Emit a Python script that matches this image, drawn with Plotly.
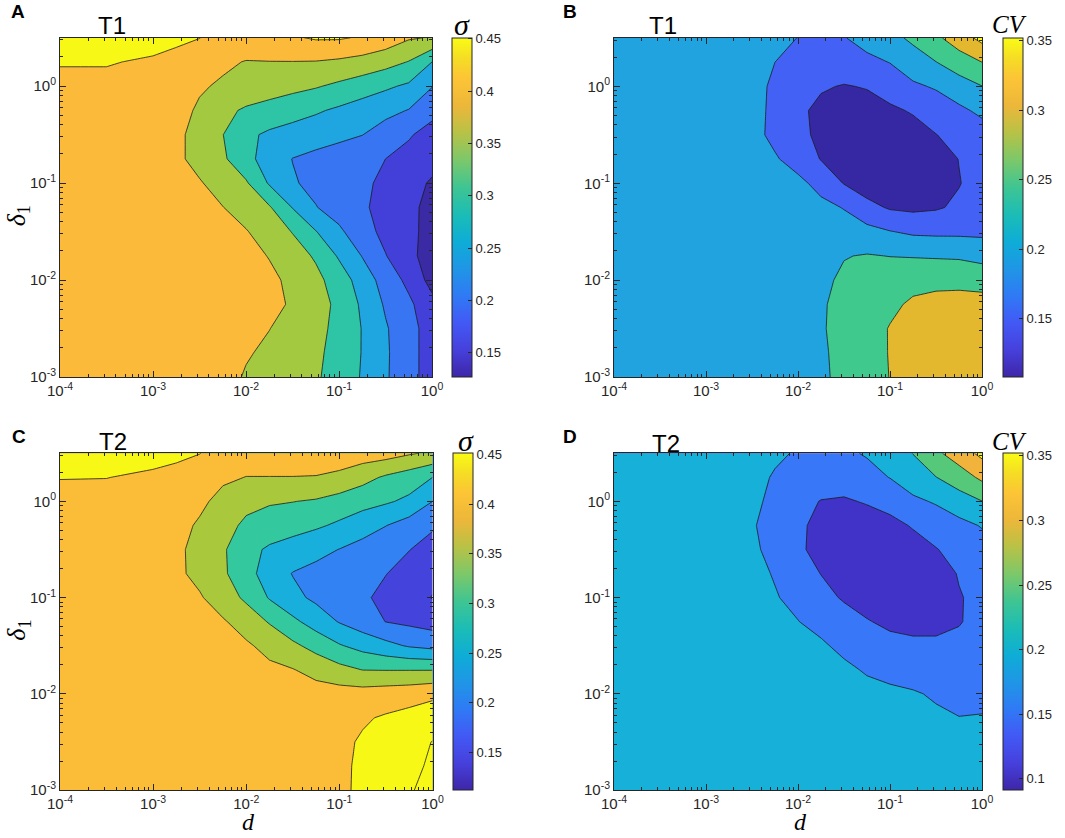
import plotly.graph_objects as go

# ---------------- data ----------------
# grid: exponents of d (x) and delta_1 (y)
d_exp = [-4, -3.5, -3, -2.75, -2.5, -2.25, -2, -1.75, -1.5, -1.25, -1, -0.75, -0.5, -0.25, 0]
delta_exp = [-3, -2.75, -2.5, -2.25, -2, -1.75, -1.5, -1.25, -1, -0.75, -0.5, -0.25, 0, 0.25, 0.5]

# panel A : sigma, T1   (rows = delta_exp, cols = d_exp)
sigma_T1 = [
    [0.42, 0.42, 0.42, 0.42, 0.42, 0.42, 0.395, 0.383, 0.369, 0.356, 0.33, 0.296, 0.256, 0.217, 0.178],
    [0.42, 0.42, 0.42, 0.42, 0.42, 0.42, 0.405, 0.39, 0.375, 0.359, 0.334, 0.298, 0.257, 0.217, 0.178],
    [0.42, 0.42, 0.42, 0.42, 0.42, 0.42, 0.412, 0.401, 0.382, 0.363, 0.338, 0.298, 0.255, 0.217, 0.178],
    [0.42, 0.42, 0.42, 0.42, 0.42, 0.42, 0.42, 0.412, 0.395, 0.37, 0.339, 0.292, 0.244, 0.21, 0.165],
    [0.42, 0.42, 0.42, 0.42, 0.42, 0.42, 0.42, 0.41, 0.39, 0.363, 0.327, 0.277, 0.23, 0.187, 0.133],
    [0.42, 0.42, 0.42, 0.42, 0.42, 0.42, 0.415, 0.398, 0.372, 0.344, 0.294, 0.248, 0.202, 0.164, 0.126],
    [0.42, 0.42, 0.42, 0.42, 0.42, 0.42, 0.403, 0.376, 0.348, 0.302, 0.259, 0.219, 0.187, 0.161, 0.135],
    [0.42, 0.42, 0.42, 0.42, 0.42, 0.401, 0.378, 0.355, 0.298, 0.252, 0.228, 0.206, 0.186, 0.158, 0.14],
    [0.42, 0.42, 0.42, 0.42, 0.404, 0.38, 0.356, 0.295, 0.255, 0.237, 0.223, 0.209, 0.19, 0.166, 0.145],
    [0.42, 0.42, 0.42, 0.41, 0.384, 0.358, 0.315, 0.278, 0.249, 0.237, 0.226, 0.214, 0.2, 0.184, 0.165],
    [0.42, 0.42, 0.42, 0.41, 0.384, 0.351, 0.31, 0.292, 0.282, 0.272, 0.262, 0.251, 0.229, 0.205, 0.181],
    [0.42, 0.42, 0.42, 0.415, 0.394, 0.363, 0.343, 0.331, 0.318, 0.306, 0.292, 0.277, 0.263, 0.248, 0.215],
    [0.43, 0.43, 0.43, 0.42, 0.405, 0.394, 0.384, 0.374, 0.364, 0.354, 0.34, 0.324, 0.308, 0.292, 0.252],
    [0.455, 0.455, 0.44, 0.435, 0.42, 0.408, 0.398, 0.399, 0.399, 0.398, 0.392, 0.383, 0.368, 0.348, 0.3],
    [0.46, 0.47, 0.48, 0.46, 0.451, 0.43, 0.43, 0.435, 0.445, 0.455, 0.455, 0.445, 0.43, 0.405, 0.397],
]

# panel B : CV, T1
cv_T1 = [
    [0.22, 0.22, 0.22, 0.22, 0.22, 0.22, 0.225, 0.24, 0.265, 0.282, 0.301, 0.315, 0.32, 0.322, 0.322],
    [0.22, 0.22, 0.22, 0.22, 0.22, 0.22, 0.225, 0.242, 0.266, 0.283, 0.302, 0.316, 0.321, 0.323, 0.323],
    [0.22, 0.22, 0.22, 0.22, 0.22, 0.22, 0.225, 0.245, 0.267, 0.284, 0.302, 0.316, 0.321, 0.323, 0.322],
    [0.22, 0.22, 0.22, 0.22, 0.22, 0.22, 0.225, 0.244, 0.266, 0.28, 0.292, 0.306, 0.312, 0.314, 0.312],
    [0.22, 0.22, 0.22, 0.22, 0.22, 0.22, 0.225, 0.24, 0.258, 0.27, 0.28, 0.288, 0.29, 0.29, 0.288],
    [0.22, 0.22, 0.22, 0.22, 0.22, 0.22, 0.22, 0.235, 0.248, 0.253, 0.249, 0.247, 0.245, 0.243, 0.232],
    [0.22, 0.22, 0.22, 0.22, 0.22, 0.22, 0.22, 0.22, 0.22, 0.215, 0.202, 0.192, 0.19, 0.19, 0.19],
    [0.22, 0.22, 0.22, 0.22, 0.22, 0.22, 0.22, 0.212, 0.198, 0.165, 0.145, 0.14, 0.145, 0.158, 0.17],
    [0.22, 0.22, 0.22, 0.22, 0.22, 0.22, 0.212, 0.185, 0.148, 0.125, 0.115, 0.118, 0.128, 0.148, 0.168],
    [0.22, 0.22, 0.22, 0.22, 0.22, 0.205, 0.18, 0.148, 0.125, 0.112, 0.108, 0.112, 0.128, 0.151, 0.168],
    [0.22, 0.22, 0.22, 0.22, 0.215, 0.188, 0.162, 0.14, 0.122, 0.112, 0.115, 0.128, 0.149, 0.165, 0.178],
    [0.22, 0.22, 0.22, 0.22, 0.215, 0.19, 0.16, 0.138, 0.128, 0.13, 0.14, 0.155, 0.172, 0.19, 0.21],
    [0.22, 0.22, 0.22, 0.22, 0.215, 0.192, 0.172, 0.155, 0.147, 0.153, 0.175, 0.192, 0.205, 0.228, 0.249],
    [0.22, 0.22, 0.22, 0.22, 0.22, 0.2, 0.185, 0.178, 0.18, 0.19, 0.201, 0.228, 0.249, 0.275, 0.3],
    [0.22, 0.22, 0.22, 0.22, 0.22, 0.215, 0.199, 0.19, 0.198, 0.215, 0.236, 0.259, 0.29, 0.326, 0.364],
]

# panel C : sigma, T2
sigma_T2 = [
    [0.42, 0.42, 0.42, 0.42, 0.42, 0.42, 0.42, 0.42, 0.42, 0.42, 0.44, 0.46, 0.478, 0.496, 0.514],
    [0.42, 0.42, 0.42, 0.42, 0.42, 0.42, 0.42, 0.42, 0.42, 0.42, 0.441, 0.458, 0.474, 0.49, 0.506],
    [0.42, 0.42, 0.42, 0.42, 0.42, 0.42, 0.42, 0.42, 0.42, 0.42, 0.44, 0.455, 0.47, 0.485, 0.501],
    [0.42, 0.42, 0.42, 0.42, 0.42, 0.42, 0.42, 0.42, 0.42, 0.42, 0.43, 0.445, 0.455, 0.465, 0.475],
    [0.42, 0.42, 0.42, 0.42, 0.42, 0.42, 0.42, 0.42, 0.42, 0.42, 0.42, 0.42, 0.425, 0.43, 0.44],
    [0.42, 0.42, 0.42, 0.42, 0.42, 0.42, 0.415, 0.41, 0.402, 0.384, 0.365, 0.349, 0.348, 0.348, 0.348],
    [0.42, 0.42, 0.42, 0.42, 0.42, 0.42, 0.407, 0.385, 0.36, 0.333, 0.304, 0.283, 0.264, 0.245, 0.235],
    [0.42, 0.42, 0.42, 0.42, 0.42, 0.405, 0.378, 0.346, 0.311, 0.278, 0.247, 0.223, 0.199, 0.19, 0.18],
    [0.42, 0.42, 0.42, 0.42, 0.405, 0.374, 0.341, 0.296, 0.263, 0.24, 0.223, 0.207, 0.188, 0.168, 0.148],
    [0.42, 0.42, 0.42, 0.41, 0.386, 0.358, 0.317, 0.278, 0.248, 0.236, 0.224, 0.212, 0.201, 0.185, 0.165],
    [0.42, 0.42, 0.42, 0.41, 0.384, 0.356, 0.317, 0.292, 0.278, 0.264, 0.249, 0.233, 0.217, 0.201, 0.185],
    [0.42, 0.42, 0.42, 0.415, 0.394, 0.363, 0.343, 0.331, 0.319, 0.307, 0.292, 0.271, 0.251, 0.228, 0.205],
    [0.43, 0.43, 0.43, 0.425, 0.41, 0.385, 0.36, 0.354, 0.351, 0.345, 0.329, 0.318, 0.306, 0.29, 0.25],
    [0.452, 0.451, 0.44, 0.435, 0.42, 0.408, 0.399, 0.399, 0.399, 0.398, 0.392, 0.366, 0.343, 0.325, 0.3],
    [0.47, 0.47, 0.47, 0.46, 0.451, 0.43, 0.425, 0.425, 0.425, 0.425, 0.42, 0.425, 0.42, 0.405, 0.392],
]

# panel D : CV, T2
cv_T2 = [
    [0.215, 0.215, 0.215, 0.215, 0.215, 0.215, 0.215, 0.215, 0.215, 0.215, 0.215, 0.215, 0.215, 0.215, 0.215],
    [0.215, 0.215, 0.215, 0.215, 0.215, 0.215, 0.215, 0.215, 0.215, 0.215, 0.215, 0.215, 0.215, 0.215, 0.215],
    [0.215, 0.215, 0.215, 0.215, 0.215, 0.215, 0.215, 0.215, 0.215, 0.215, 0.215, 0.215, 0.215, 0.21, 0.21],
    [0.215, 0.215, 0.215, 0.215, 0.215, 0.215, 0.215, 0.215, 0.215, 0.215, 0.215, 0.21, 0.207, 0.201, 0.203],
    [0.215, 0.215, 0.215, 0.215, 0.215, 0.215, 0.215, 0.215, 0.215, 0.215, 0.21, 0.204, 0.195, 0.185, 0.185],
    [0.215, 0.215, 0.215, 0.215, 0.215, 0.215, 0.215, 0.215, 0.21, 0.195, 0.185, 0.18, 0.178, 0.175, 0.172],
    [0.215, 0.215, 0.215, 0.215, 0.215, 0.215, 0.215, 0.207, 0.188, 0.175, 0.165, 0.16, 0.158, 0.158, 0.16],
    [0.215, 0.215, 0.215, 0.215, 0.215, 0.215, 0.201, 0.185, 0.17, 0.153, 0.14, 0.135, 0.138, 0.148, 0.16],
    [0.215, 0.215, 0.215, 0.215, 0.215, 0.203, 0.188, 0.165, 0.145, 0.13, 0.12, 0.118, 0.125, 0.147, 0.162],
    [0.215, 0.215, 0.215, 0.215, 0.212, 0.197, 0.172, 0.149, 0.13, 0.118, 0.112, 0.115, 0.128, 0.153, 0.17],
    [0.215, 0.215, 0.215, 0.215, 0.209, 0.185, 0.158, 0.135, 0.12, 0.112, 0.112, 0.125, 0.148, 0.165, 0.18],
    [0.215, 0.215, 0.215, 0.215, 0.204, 0.183, 0.158, 0.138, 0.125, 0.12, 0.132, 0.155, 0.17, 0.186, 0.203],
    [0.215, 0.215, 0.215, 0.215, 0.209, 0.19, 0.167, 0.148, 0.143, 0.155, 0.172, 0.19, 0.205, 0.228, 0.249],
    [0.215, 0.215, 0.215, 0.215, 0.213, 0.196, 0.185, 0.178, 0.18, 0.188, 0.201, 0.228, 0.249, 0.275, 0.31],
    [0.215, 0.215, 0.215, 0.215, 0.215, 0.207, 0.196, 0.19, 0.194, 0.203, 0.225, 0.251, 0.29, 0.325, 0.362],
]

# colour-bar ranges and ticks
sigma_T1_range = [0.127, 0.451]
cv_T1_range = [0.108, 0.352]
sigma_T2_range = [0.112, 0.451]
cv_T2_range = [0.091, 0.352]
sigma_cbar_ticks = [0.15, 0.2, 0.25, 0.3, 0.35, 0.4, 0.45]
cv_T1_cbar_ticks = [0.15, 0.2, 0.25, 0.3, 0.35]
cv_T2_cbar_ticks = [0.1, 0.15, 0.2, 0.25, 0.3, 0.35]

x_tick_vals = [1e-4, 1e-3, 1e-2, 1e-1, 1]
x_tick_text = ["10<sup>-4</sup>", "10<sup>-3</sup>", "10<sup>-2</sup>", "10<sup>-1</sup>", "10<sup>0</sup>"]
y_tick_vals = [1e-3, 1e-2, 1e-1, 1]
y_tick_text = ["10<sup>-3</sup>", "10<sup>-2</sup>", "10<sup>-1</sup>", "10<sup>0</sup>"]

# ---------------- styling ----------------
W, H = 1065, 838
INK = "#262626"
SANS = "Liberation Sans, Arial, sans-serif"
SERIF = "Liberation Serif, DejaVu Serif, serif"
TICKFONT = dict(family=SANS, size=15, color=INK)

PARULA = [
    [0.00, "#3e26a8"], [0.08, "#4640dc"], [0.16, "#4259f5"], [0.24, "#2f7af5"],
    [0.32, "#1f96e6"], [0.40, "#0eadd6"], [0.48, "#1cbdb5"], [0.56, "#3fc592"],
    [0.64, "#7cc86a"], [0.72, "#b7c246"], [0.80, "#ecb73a"], [0.88, "#fcc436"],
    [0.94, "#f5dd24"], [1.00, "#f9fb15"],
]

def band_scale(colors):
    n = len(colors) - 1
    return [[i / n, c] for i, c in enumerate(colors)]

sigma_levels = dict(start=0.15, end=0.5, size=0.05)
cv_levels = dict(start=0.15, end=0.35, size=0.05)

panels = [
    dict(z=sigma_T1, lv=sigma_levels, rng=sigma_T1_range, cticks=sigma_cbar_ticks,
         colors=["#3a2aa4", "#4340da", "#3875f3", "#1fa5e0", "#2ec4a6", "#a3c940", "#fbba3a", "#f8f816", "#f8f816"],
         px=(60, 432), py=(37.7, 377), cb=(452, 37.7, 377),
         letter="A", lpos=(18, 12), title="T1", tpos=(112, 25),
         clab="<i>σ</i>", clpos=(462, 24), clsize=30, ylab=True, xlab=False),
    dict(z=cv_T1, lv=cv_levels, rng=cv_T1_range, cticks=cv_T1_cbar_ticks,
         colors=["#3628a2", "#4461f5", "#21a3e0", "#3fc98c", "#e4b82e", "#f8f816"],
         px=(614, 982), py=(38, 377), cb=(1003, 38, 377),
         letter="B", lpos=(570, 12), title="T1", tpos=(663, 25),
         clab="<i>CV</i>", clpos=(1009, 24), clsize=25, ylab=False, xlab=False),
    dict(z=sigma_T2, lv=sigma_levels, rng=sigma_T2_range, cticks=sigma_cbar_ticks,
         colors=["#3a2aa4", "#4444dd", "#3382f4", "#19afdc", "#33c89e", "#a9c83c", "#fbbc38", "#f8f816", "#f8f816"],
         px=(60, 432.5), py=(453.3, 790), cb=(453, 453.3, 790),
         letter="C", lpos=(19, 436), title="T2", tpos=(113, 442),
         clab="<i>σ</i>", clpos=(466, 440), clsize=30, ylab=True, xlab=True),
    dict(z=cv_T2, lv=cv_levels, rng=cv_T2_range, cticks=cv_T2_cbar_ticks,
         colors=["#4133c8", "#3878f8", "#17b0d8", "#55c879", "#f1b33b", "#f8f816"],
         px=(614, 982), py=(453.3, 790), cb=(1003, 453.3, 790),
         letter="D", lpos=(570, 436), title="T2", tpos=(666, 443),
         clab="<i>CV</i>", clpos=(1009, 441), clsize=25, ylab=False, xlab=True),
]

d_grid = [10.0 ** e for e in d_exp]
delta_grid = [10.0 ** e for e in delta_exp]

minor_x = [m * 10.0 ** k for k in range(-4, 0) for m in range(2, 10)]
minor_y = [m * 10.0 ** k for k in range(-3, 1) for m in range(2, 10) if m * 10.0 ** k < 3.17]

fig = go.Figure()
annotations = []
layout_axes = {}

for i, p in enumerate(panels, start=1):
    xa = "x" if i == 1 else f"x{i}"
    ya = "y" if i == 1 else f"y{i}"
    fig.add_trace(go.Contour(
        x=d_grid, y=delta_grid, z=p["z"], xaxis=xa, yaxis=ya,
        autocontour=False,
        contours=dict(start=p["lv"]["start"], end=p["lv"]["end"], size=p["lv"]["size"],
                      coloring="fill", showlines=True),
        line=dict(color="#1a1a1a", width=0.8, smoothing=0),
        colorscale=band_scale(p["colors"]), showscale=False, hoverinfo="skip",
    ))
    cbx, cbt, cbb = p["cb"]
    fig.add_trace(go.Scatter(
        x=[None], y=[None], xaxis=xa, yaxis=ya, mode="markers", showlegend=False, hoverinfo="skip",
        marker=dict(color=[p["rng"][0]], colorscale=PARULA, cmin=p["rng"][0], cmax=p["rng"][1],
                    showscale=True, size=1,
                    colorbar=dict(x=cbx / W, xanchor="left", y=1 - cbt / H, yanchor="top",
                                  len=(cbb - cbt) / H, lenmode="fraction",
                                  thickness=20, thicknessmode="pixels", xpad=0, ypad=0,
                                  outlinewidth=1, outlinecolor=INK,
                                  tickvals=p["cticks"], ticktext=[f"{t:g}" for t in p["cticks"]],
                                  ticks="inside", ticklen=4, tickcolor=INK,
                                  tickfont=dict(family=SANS, size=13, color=INK))),
    ))
    axcommon = dict(showline=True, linecolor=INK, linewidth=1, mirror="ticks",
                    ticks="inside", ticklen=6, tickwidth=1, tickcolor=INK,
                    showgrid=False, zeroline=False, tickfont=TICKFONT, tickmode="array")
    layout_axes["xaxis" if i == 1 else f"xaxis{i}"] = dict(
        axcommon, type="log", range=[-4, 0], anchor=ya,
        domain=[p["px"][0] / W, p["px"][1] / W],
        tickvals=x_tick_vals, ticktext=x_tick_text,
        minor=dict(ticks="inside", ticklen=3, tickcolor=INK, tickmode="array", tickvals=minor_x, showgrid=False))
    layout_axes["yaxis" if i == 1 else f"yaxis{i}"] = dict(
        axcommon, type="log", range=[-3, 0.5], anchor=xa,
        domain=[1 - p["py"][1] / H, 1 - p["py"][0] / H],
        tickvals=y_tick_vals, ticktext=y_tick_text,
        minor=dict(ticks="inside", ticklen=3, tickcolor=INK, tickmode="array", tickvals=minor_y, showgrid=False))

    annotations.append(dict(text=f"<b>{p['letter']}</b>", x=p["lpos"][0] / W, y=1 - p["lpos"][1] / H,
                            xref="paper", yref="paper", showarrow=False, xanchor="center", yanchor="middle",
                            font=dict(family=SANS, size=19, color="black")))
    annotations.append(dict(text=p["title"], x=p["tpos"][0] / W, y=1 - p["tpos"][1] / H,
                            xref="paper", yref="paper", showarrow=False, xanchor="center", yanchor="middle",
                            font=dict(family=SANS, size=24, color="black")))
    annotations.append(dict(text=p["clab"], x=p["clpos"][0] / W, y=1 - p["clpos"][1] / H,
                            xref="paper", yref="paper", showarrow=False, xanchor="center", yanchor="middle",
                            font=dict(family=SERIF, size=p["clsize"], color="black")))
    if p["ylab"]:
        yc = (p["py"][0] + p["py"][1]) / 2 + 8
        annotations.append(dict(text="<i>δ</i><sub>1</sub>", x=18 / W, y=1 - yc / H, textangle=-90,
                                xref="paper", yref="paper", showarrow=False, xanchor="center", yanchor="middle",
                                font=dict(family=SERIF, size=26, color="black")))
    if p["xlab"]:
        xc = (p["px"][0] + p["px"][1]) / 2 + 2
        annotations.append(dict(text="<i>d</i>", x=xc / W, y=0, yshift=1,
                                xref="paper", yref="paper", showarrow=False, xanchor="center", yanchor="bottom",
                                font=dict(family=SERIF, size=24, color="black")))

fig.update_layout(
    width=W, height=H, margin=dict(l=0, r=0, t=0, b=0, autoexpand=False),
    paper_bgcolor="white", plot_bgcolor="white", showlegend=False,
    annotations=annotations, **layout_axes,
)

# the page itself should add no offset around the 1065x838 figure; no toolbar
fig.write_html("out.html",
               config={"displayModeBar": False, "staticPlot": True},
               post_script="document.body.style.margin='0px';document.body.style.padding='0px';"
                           "document.body.style.overflow='hidden';")
